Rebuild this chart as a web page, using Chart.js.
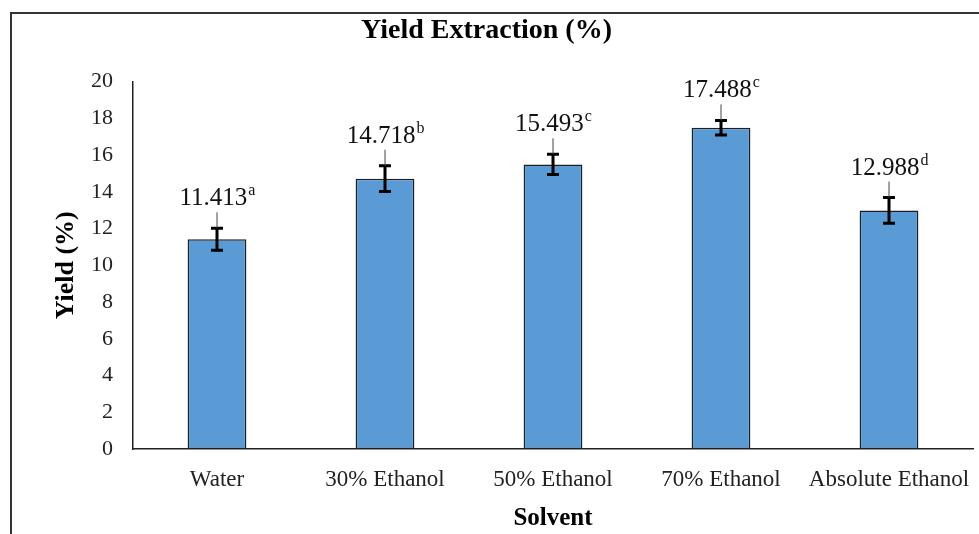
<!DOCTYPE html>
<html>
<head>
<meta charset="utf-8">
<script src="https://cdn.jsdelivr.net/npm/chart.js@4.4.1/dist/chart.umd.min.js"></script>
<style>
  html, body { margin: 0; padding: 0; background: #fff; }
</style>
</head>
<body>
<canvas id="yieldChart" width="979" height="534"></canvas>
<script>
// values
var solvents = ["Water", "30% Ethanol", "50% Ethanol", "70% Ethanol", "Absolute Ethanol"];
var yieldValues = [11.413, 14.718, 15.493, 17.488, 12.988];
var yieldErrors = [0.6, 0.7, 0.55, 0.4, 0.7];
var groupLetters = ["a", "b", "c", "c", "d"];
var yTicks = [0, 2, 4, 6, 8, 10, 12, 14, 16, 18, 20];

var serif = '"Liberation Serif", "Times New Roman", "DejaVu Serif", serif';
Chart.defaults.font.family = serif;
Chart.defaults.color = '#222';

// outer frame (left and top edges only, like the cropped figure)
var framePlugin = {
  id: 'frame',
  beforeDraw: function (chart) {
    var c = chart.ctx;
    c.save();
    c.strokeStyle = '#333';
    c.lineWidth = 2;
    c.beginPath();
    c.moveTo(11, chart.height);
    c.lineTo(11, 13);
    c.lineTo(chart.width, 13);
    c.stroke();
    c.restore();
  }
};

// error bars + value labels with superscript letters
var errorLabelPlugin = {
  id: 'errorLabels',
  afterDatasetsDraw: function (chart) {
    var c = chart.ctx;
    var yScale = chart.scales.y;
    var meta = chart.getDatasetMeta(0);
    c.save();
    meta.data.forEach(function (bar, i) {
      var v = yieldValues[i], e = yieldErrors[i];
      var yHi = yScale.getPixelForValue(v + e);
      var yLo = yScale.getPixelForValue(v - e);
      var x = bar.x;

      c.strokeStyle = '#000';
      c.lineWidth = 3;
      c.beginPath();
      c.moveTo(x, yHi); c.lineTo(x, yLo);
      c.moveTo(x - 6, yHi); c.lineTo(x + 6, yHi);
      c.moveTo(x - 6, yLo); c.lineTo(x + 6, yLo);
      c.stroke();

      // label
      var main = v.toFixed(3);
      var sup = groupLetters[i];
      c.font = '25px ' + serif;
      var wMain = c.measureText(main).width;
      c.font = '16px ' + serif;
      var wSup = c.measureText(sup).width;
      var left = x - (wMain + wSup) / 2;
      var base = yHi - 23;
      c.fillStyle = '#111';
      c.textAlign = 'left';
      c.textBaseline = 'alphabetic';
      c.font = '25px ' + serif;
      c.fillText(main, left, base);
      c.font = '16px ' + serif;
      c.fillText(sup, left + wMain + 1, base - 10);

      // thin leader line
      c.strokeStyle = '#444';
      c.lineWidth = 1;
      c.beginPath();
      c.moveTo(x, base + 7);
      c.lineTo(x, yHi);
      c.stroke();
    });
    c.restore();
  }
};

var ctx = document.getElementById('yieldChart');
var yieldChart = new Chart(ctx, {
  type: 'bar',
  data: {
    labels: solvents,
    datasets: [{
      data: yieldValues,
      backgroundColor: '#5B9BD5',
      borderColor: '#1f1f1f',
      borderWidth: 1.5,
      borderSkipped: false,
      barPercentage: 0.35,
      categoryPercentage: 1.0
    }]
  },
  options: {
    responsive: false,
    animation: false,
    layout: { padding: { left: 0, right: 6, top: 0, bottom: 0 } },
    plugins: {
      legend: { display: false },
      tooltip: { enabled: false },
      title: {
        display: true,
        text: 'Yield Extraction (%)',
        color: '#000',
        font: { size: 28, weight: 'bold' },
        padding: { top: 14, bottom: 34 }
      }
    },
    scales: {
      x: {
        grid: { display: false, drawTicks: false },
        border: { display: true, color: '#222', width: 1.5 },
        ticks: { color: '#222', font: { size: 23 }, padding: 17, maxRotation: 0 },
        title: {
          display: true,
          text: 'Solvent',
          color: '#000',
          font: { size: 25, weight: 'bold' },
          padding: { top: 4, bottom: 0 }
        },
        afterFit: function (scale) {
          scale.height = 85;
          scale.paddingLeft = 0;
          scale.paddingRight = 0;
        }
      },
      y: {
        min: 0,
        max: 20,
        afterBuildTicks: function (scale) {
          scale.ticks = yTicks.map(function (t) { return { value: t }; });
        },
        grid: { display: false, drawTicks: false },
        border: { display: true, color: '#222', width: 1.5 },
        ticks: { color: '#222', font: { size: 22 }, padding: 20 },
        title: {
          display: true,
          text: 'Yield (%)',
          color: '#000',
          font: { size: 26, weight: 'bold' },
          padding: { top: 51, bottom: 0 }
        },
        afterFit: function (scale) { scale.width = 133; }
      }
    }
  },
  plugins: [framePlugin, errorLabelPlugin]
});
</script>
</body>
</html>
